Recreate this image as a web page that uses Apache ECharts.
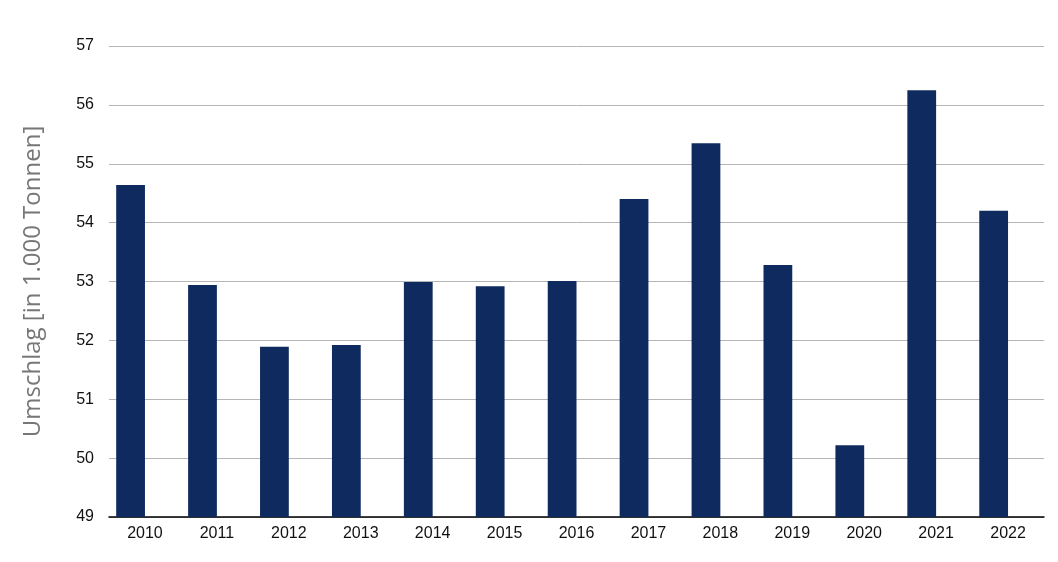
<!DOCTYPE html>
<html><head><meta charset="utf-8">
<script src="https://cdn.jsdelivr.net/npm/echarts@6/dist/echarts.min.js"></script>
<style>html,body{margin:0;padding:0;background:#fff}#c{width:1058px;height:562px}</style>
</head><body><div id="c"></div>
<script>
const categories = ['2010','2011','2012','2013','2014','2015','2016','2017','2018','2019','2020','2021','2022'];
const umschlag = [54.64, 52.94, 51.89, 51.92, 52.99, 52.92, 53.01, 54.40, 55.35, 53.28, 50.22, 56.25, 54.20];
const emptySeries = categories.map(() => null);
const yTitle = 'Umschlag [in 1.000 Tonnen]';

const chart = echarts.init(document.getElementById('c'));
chart.setOption({
  animation: false,
  grid: { left: 109, right: 14, top: 46, bottom: 45 },
  xAxis: {
    type: 'category', data: categories,
    axisLine: { lineStyle: { color: '#000', width: 1.5 } },
    axisTick: { show: false },
    axisLabel: { color: '#111', fontSize: 16, fontFamily: 'Liberation Sans', margin: 9 }
  },
  yAxis: {
    type: 'value', min: 49, max: 57, interval: 1,
    name: yTitle, nameLocation: 'middle', nameGap: 64,
    nameTextStyle: { color: '#777', fontSize: 24, fontFamily: 'Open Sans' },
    axisLine: { show: false }, axisTick: { show: false },
    axisLabel: { color: '#111', fontSize: 16, fontFamily: 'Liberation Sans', margin: 15 },
    splitLine: { lineStyle: { color: '#b5b5b5', width: 1 } }
  },
  series: [
    { type: 'bar', data: umschlag, barWidth: '40%', barGap: '0%', itemStyle: { color: '#0f2a5f' } },
    { type: 'bar', data: emptySeries, barWidth: '40%', barGap: '0%', itemStyle: { color: '#8aa0c8' } }
  ]
});
</script></body></html>
